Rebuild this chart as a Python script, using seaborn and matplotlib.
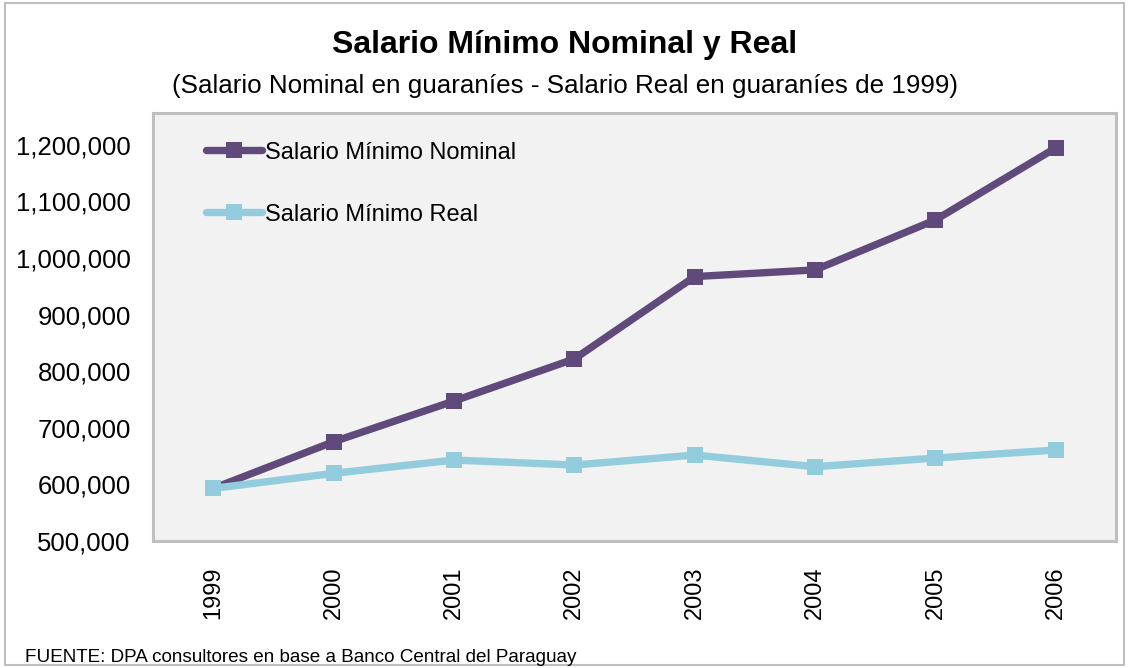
import matplotlib
matplotlib.use("Agg")
import matplotlib.pyplot as plt
import seaborn as sns
import pandas as pd
from matplotlib.patches import Rectangle
from matplotlib.ticker import FuncFormatter

years = ["1999", "2000", "2001", "2002", "2003", "2004", "2005", "2006"]
nominal = [593000, 675400, 747300, 821600, 967000, 978800, 1067100, 1194300]
real = [593000, 619600, 643100, 634300, 651900, 631300, 646600, 660800]
series_names = ["Salario Mínimo Nominal", "Salario Mínimo Real"]
title = "Salario Mínimo Nominal y Real"
subtitle = "(Salario Nominal en guaraníes - Salario Real en guaraníes de 1999)"
source = "FUENTE: DPA consultores en base a Banco Central del Paraguay"
yticks = [500000, 600000, 700000, 800000, 900000, 1000000, 1100000, 1200000]

df = pd.DataFrame({
    "year": years * 2,
    "value": nominal + real,
    "series": [series_names[0]] * len(years) + [series_names[1]] * len(years),
})

sns.set_theme(style="white")
plt.rcParams["font.family"] = ["Liberation Sans", "DejaVu Sans"]
plt.rcParams["text.color"] = "black"

fig = plt.figure(figsize=(11.29, 6.68), dpi=100)
fig.patch.set_facecolor("white")
ax = fig.add_axes([0.1355, 0.190, 0.853, 0.641])
ax.set_facecolor("#F2F2F2")

palette = {series_names[0]: "#604A7B", series_names[1]: "#93CDDD"}
sns.lineplot(data=df, x="year", y="value", hue="series", style="series",
             markers=["s", "s"], dashes=False, palette=palette,
             linewidth=5.3, markersize=12, markeredgewidth=0, ax=ax,
             sort=False)

ax.set_xlim(-0.5, len(years) - 0.5)
ax.set_ylim(500000, 1256000)
ax.set_yticks(yticks)
ax.yaxis.set_major_formatter(FuncFormatter(lambda v, p: f"{int(v):,}"))
ax.set_xlabel("")
ax.set_ylabel("")
ax.tick_params(axis="both", length=0, colors="black")
ax.tick_params(axis="y", pad=16, labelsize=18.5)
ax.tick_params(axis="x", pad=18, labelrotation=90, labelsize=17)
for s in ax.spines.values():
    s.set_color("#BFBFBF")
    s.set_linewidth(2.2)

leg = ax.legend(loc="upper left", bbox_to_anchor=(0.045, 0.955), frameon=False,
                fontsize=17, labelspacing=1.7, handlelength=2.4,
                handletextpad=0.1, borderaxespad=0)
for h in leg.legend_handles:
    h.set_linewidth(5.3)
    h.set_markersize(12)
for t in leg.get_texts():
    t.set_color("black")

fig.text(0.5, 0.933, title, ha="center", va="center", fontsize=23,
         fontweight="bold", color="black")
fig.text(0.5, 0.871, subtitle, ha="center", va="center", fontsize=18.7,
         color="black")
fig.text(0.022, 0.016, source, ha="left", va="center", fontsize=13.6,
         color="black")

fig.patches.append(Rectangle((0.004, 0.004), 0.992, 0.992, transform=fig.transFigure,
                             fill=False, edgecolor="#BFBFBF", linewidth=1.5))

fig.savefig("out.png", dpi=100)
